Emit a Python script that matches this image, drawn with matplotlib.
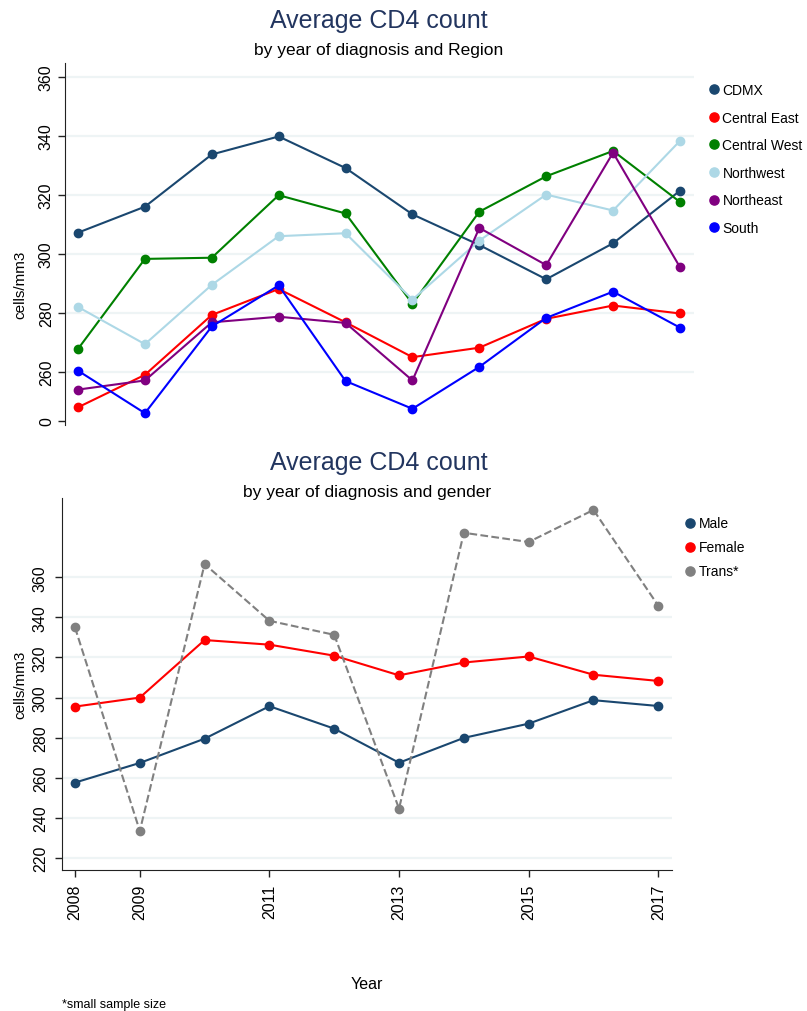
#!/usr/bin/env python3
import matplotlib
matplotlib.use("Agg")
import matplotlib.pyplot as plt
import numpy as np

plt.rcParams['font.family'] = ['Liberation Sans', 'DejaVu Sans']

years = np.arange(2008, 2018)

# by region
regions = ['CDMX', 'Central East', 'Central West', 'Northwest', 'Northeast', 'South']
cdmx = [307.1, 315.9, 333.6, 339.7, 329.0, 313.3, 302.9, 291.3, 303.5, 321.3]
central_east = [247.9, 258.9, 279.2, 288.0, 276.7, 264.9, 268.1, 277.9, 282.4, 279.7]
central_west = [267.7, 298.2, 298.6, 319.8, 313.6, 283.0, 314.2, 326.2, 334.8, 317.5]
northwest = [281.9, 269.3, 289.4, 305.9, 306.9, 284.4, 304.4, 320.0, 314.6, 338.2]
northeast = [253.9, 257.0, 276.7, 278.6, 276.5, 257.0, 308.7, 296.1, 334.2, 295.4]
south = [260.3, 245.9, 275.3, 289.2, 256.8, 247.4, 261.6, 278.2, 287.1, 274.9]
region_colors = ['#1a476f', '#ff0000', '#008000', '#add8e6', '#800080', '#0000ff']

# by gender
genders = ['Male', 'Female', 'Trans*']
male = [257.6, 267.4, 279.5, 295.7, 284.5, 267.5, 279.9, 287.0, 298.7, 295.8]
female = [295.5, 300.0, 328.7, 326.4, 320.9, 311.1, 317.5, 320.5, 311.4, 308.3]
trans = [335.0, 233.5, 366.6, 338.3, 331.3, 244.6, 382.2, 377.6, 393.6, 345.8]
gender_colors = ['#1a476f', '#ff0000', '#808080']

top_ticks = [243.4, 260, 280, 300, 320, 340, 360]
top_labels = ['0', '260', '280', '300', '320', '340', '360']
bottom_ticks = [220, 240, 260, 280, 300, 320, 340, 360]
xticks_bottom = [2008, 2009, 2011, 2013, 2015, 2017]

W, H = 807, 1012
fig = plt.figure(figsize=(W / 100, H / 100), dpi=100)
title_color = '#22355f'
grid_color = '#eef4f5'

# ---- top panel ----
ax1 = fig.add_axes([65 / W, 1 - 426 / H, 629 / W, 361.7 / H])
for name, vals, c in zip(regions, [cdmx, central_east, central_west, northwest, northeast, south], region_colors):
    ax1.plot(years, vals, color=c, lw=1.5, marker='o', ms=6, label=name)
ax1.set_xlim(2007.805, 2017.21)
ax1.set_ylim(241.9, 364.5)
ax1.set_yticks(top_ticks)
ax1.set_yticklabels(top_labels, rotation=90, va='center', fontsize=11.5)
for v in top_ticks[1:]:
    ax1.axhline(v, color=grid_color, lw=1.6, zorder=0)
ax1.set_xticks([])
ax1.spines[['top', 'right', 'bottom']].set_visible(False)
ax1.spines['left'].set_color('#222222')
ax1.tick_params(axis='y', length=5, width=1, color='#222222', pad=3)
ax1.set_ylabel('cells/mm3', fontsize=11)
ax1.yaxis.set_label_coords(-0.060, 0.39)
ax1.legend(loc='upper left', bbox_to_anchor=(1.012, 0.98), frameon=False, fontsize=10,
           handlelength=0, handletextpad=0.6, labelspacing=0.98, markerscale=1.1)
fig.text(379 / W, 1 - 21 / H, 'Average CD4 count', ha='center', va='center', fontsize=18, color=title_color)
fig.text(379 / W, 1 - 50 / H, 'by year of diagnosis and Region', ha='center', va='center', fontsize=12.5)

# ---- bottom panel ----
ax2 = fig.add_axes([61.7 / W, 1 - 871 / H, 610 / W, 371.7 / H])
styles = ['-', '-', '--']
for name, vals, c, ls in zip(genders, [male, female, trans], gender_colors, styles):
    ax2.plot(years, vals, color=c, lw=1.5, ls=ls, marker='o', ms=6, label=name)
ax2.set_xlim(2007.795, 2017.207)
ax2.set_ylim(214, 399.4)
ax2.set_yticks(bottom_ticks)
ax2.set_yticklabels([str(v) for v in bottom_ticks], rotation=90, va='center', fontsize=11.5)
for v in bottom_ticks:
    ax2.axhline(v, color=grid_color, lw=1.6, zorder=0)
ax2.set_xticks(xticks_bottom)
ax2.set_xticklabels([str(v) for v in xticks_bottom], rotation=90, fontsize=11.5)
ax2.spines[['top', 'right']].set_visible(False)
ax2.spines['left'].set_color('#222222')
ax2.spines['bottom'].set_color('#222222')
ax2.tick_params(length=5, width=1, color='#222222', pad=5)
ax2.set_ylabel('cells/mm3', fontsize=11)
ax2.yaxis.set_label_coords(-0.057, 0.5)
ax2.set_xlabel('Year', fontsize=11.5, labelpad=40.5)
ax2.legend(loc='upper left', bbox_to_anchor=(1.01, 0.985), frameon=False, fontsize=10,
           handlelength=0, handletextpad=0.6, labelspacing=0.72, markerscale=1.1)
fig.text(379 / W, 1 - 463 / H, 'Average CD4 count', ha='center', va='center', fontsize=18, color=title_color)
fig.text(367 / W, 1 - 492 / H, 'by year of diagnosis and gender', ha='center', va='center', fontsize=12.5)
fig.text(62 / W, 1 - 1005 / H, '*small sample size', ha='left', va='center', fontsize=9)

fig.savefig('out.png', dpi=100)
